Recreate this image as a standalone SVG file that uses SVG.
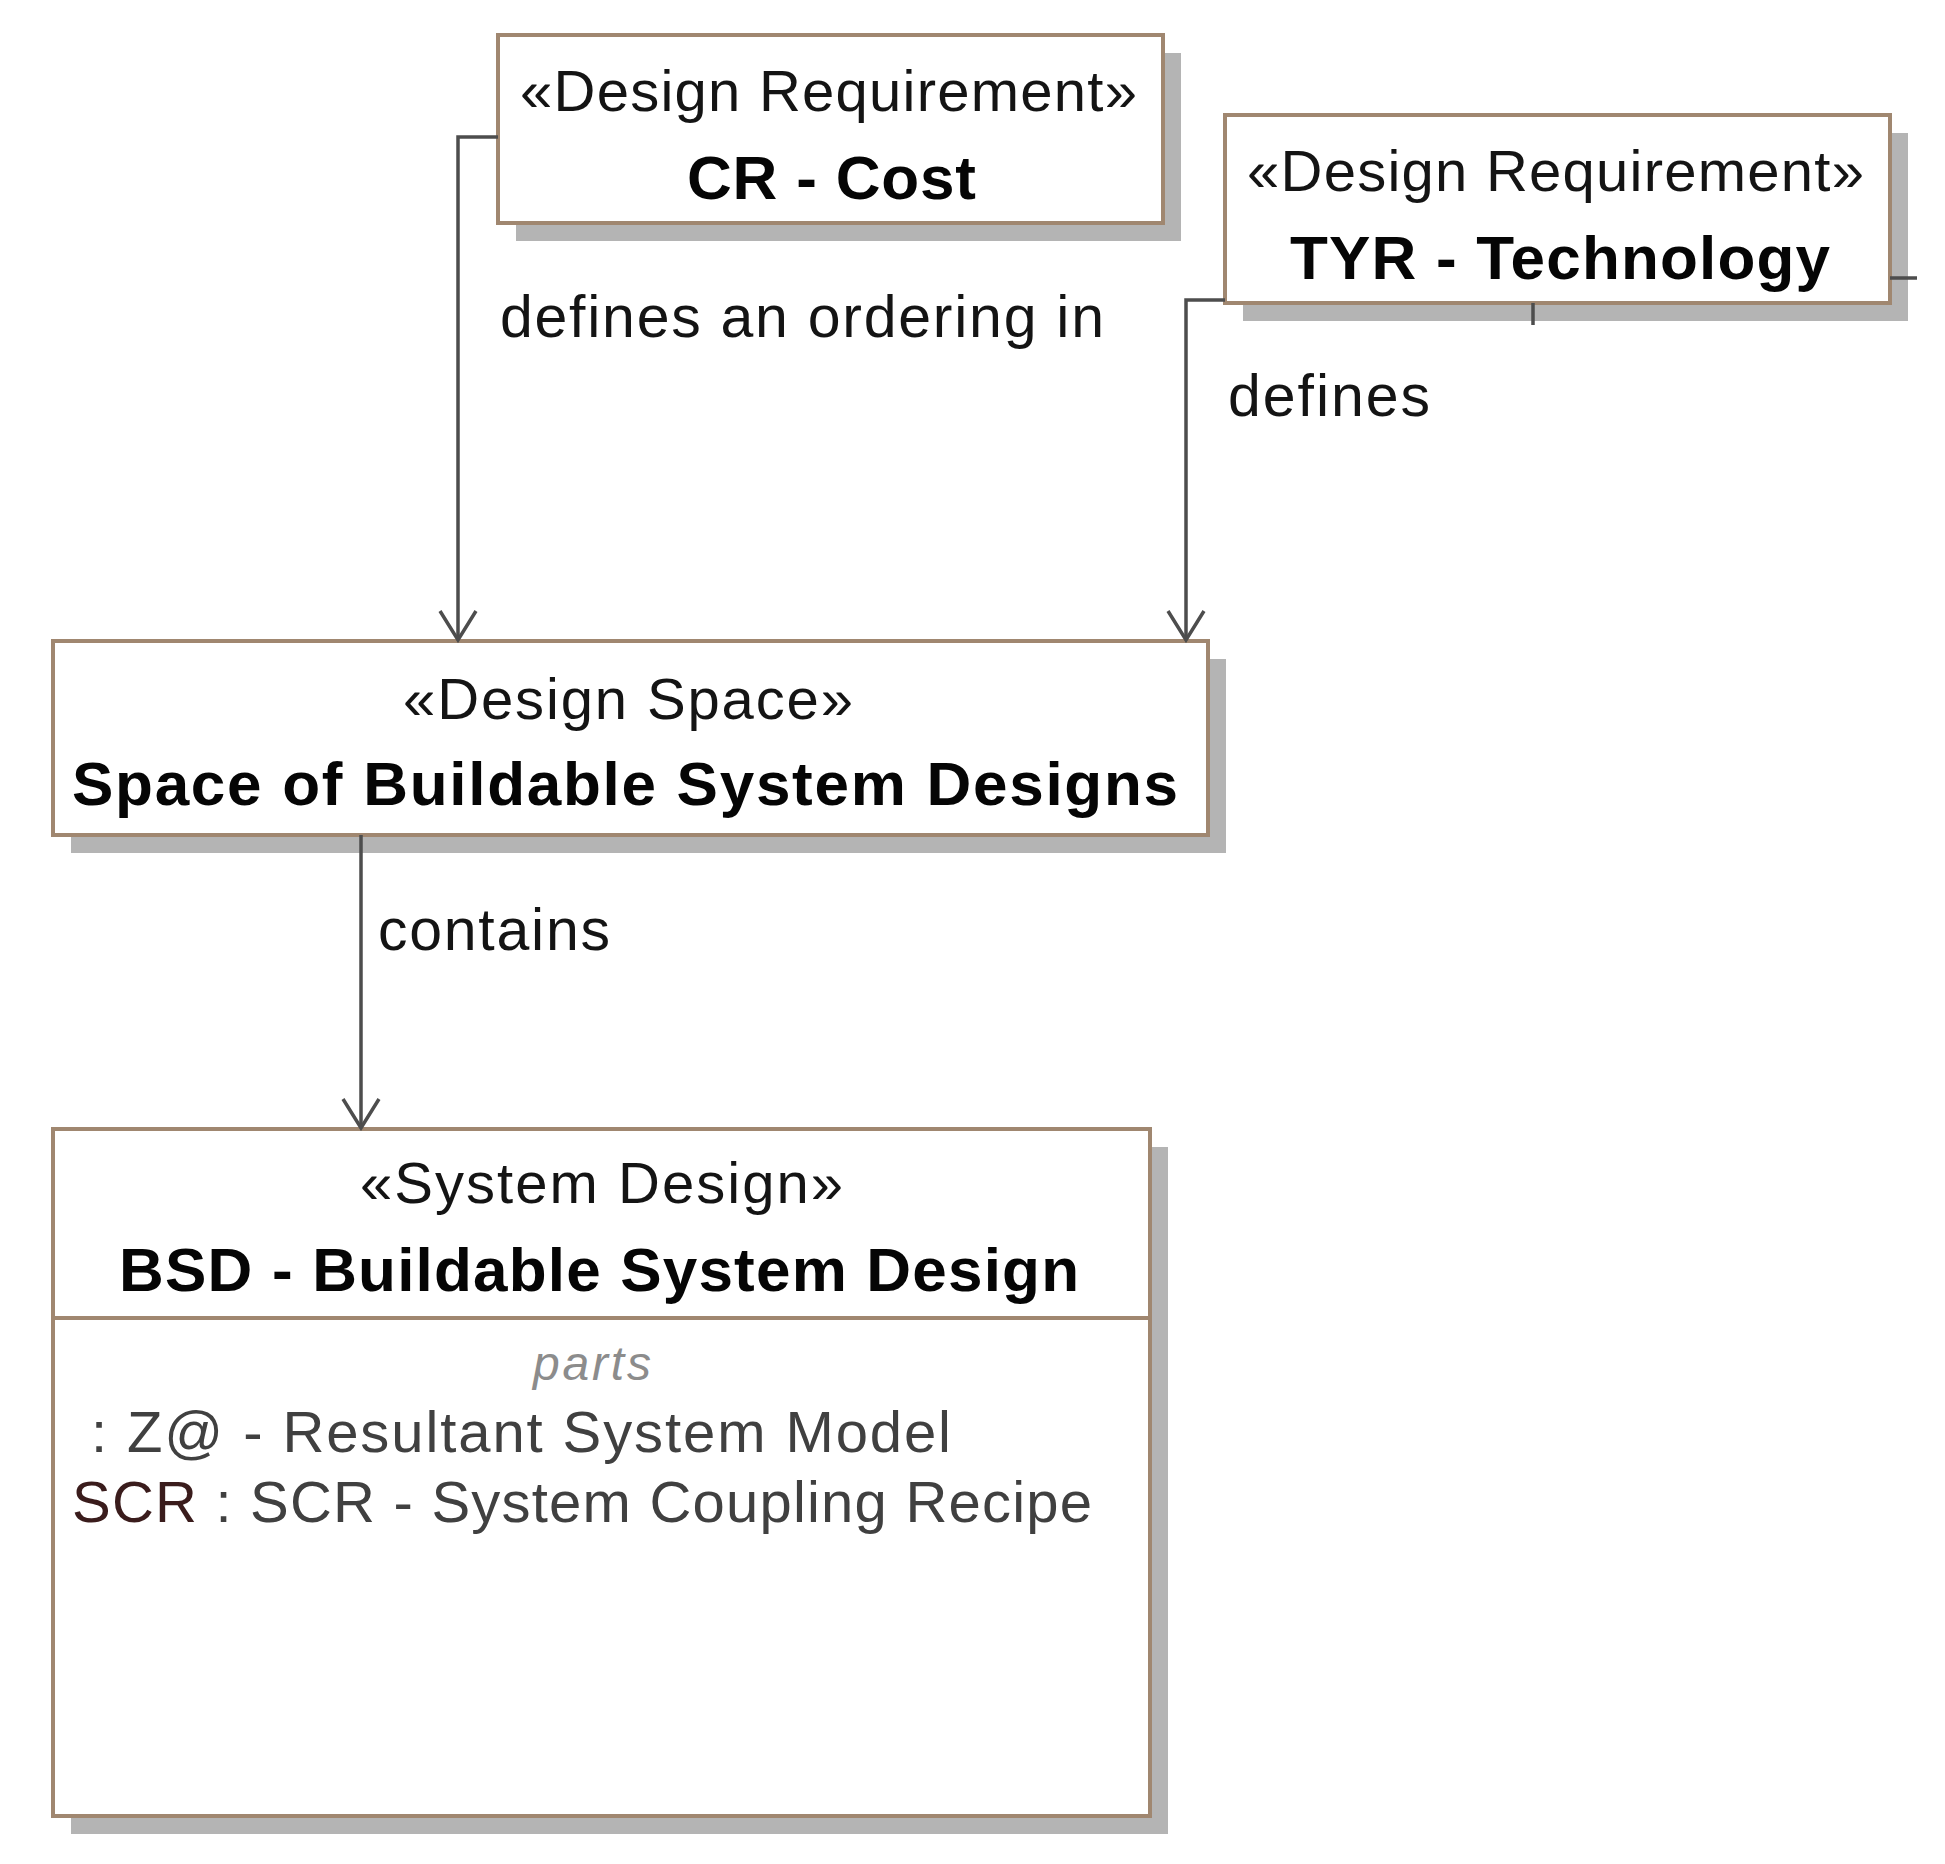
<svg xmlns="http://www.w3.org/2000/svg" width="1945" height="1864" viewBox="0 0 1945 1864">
<style>
.shadow{fill:#b4b4b4}
.box{fill:#ffffff;stroke:#a08770;stroke-width:4}
.st{font-family:"Liberation Sans",Arial,sans-serif;font-size:58px;fill:#141414}
.nm{font-family:"Liberation Sans",Arial,sans-serif;font-size:62px;font-weight:bold;fill:#050505}
.lbl{font-family:"Liberation Sans",Arial,sans-serif;font-size:59px;fill:#141414}
.parts{font-family:"Liberation Sans",Arial,sans-serif;font-size:48px;font-style:italic;fill:#8c8c8c}
.body{font-family:"Liberation Sans",Arial,sans-serif;font-size:58px;fill:#404040}
.conn{fill:none;stroke:#4d4d4d;stroke-width:3.5}
</style>
<rect width="1945" height="1864" fill="#ffffff"/>
<g id="node-cr">
<rect class="shadow" x="516" y="53" width="665" height="188"/>
<rect class="box" x="498" y="35" width="665" height="188"/>
<text class="st" x="520" y="111" textLength="617" lengthAdjust="spacing">«Design Requirement»</text>
<text class="nm" x="687" y="199" textLength="289" lengthAdjust="spacing">CR - Cost</text>
</g>
<g id="node-tyr">
<rect class="shadow" x="1243" y="133" width="665" height="188"/>
<rect class="box" x="1225" y="115" width="665" height="188"/>
<text class="st" x="1247" y="191" textLength="617" lengthAdjust="spacing">«Design Requirement»</text>
<text class="nm" x="1290" y="279" textLength="540" lengthAdjust="spacing">TYR - Technology</text>
</g>
<g id="node-space">
<rect class="shadow" x="71" y="659" width="1155" height="194"/>
<rect class="box" x="53" y="641" width="1155" height="194"/>
<text class="st" x="403" y="719" textLength="450" lengthAdjust="spacing">«Design Space»</text>
<text class="nm" x="72" y="805" textLength="1106" lengthAdjust="spacing">Space of Buildable System Designs</text>
</g>
<g id="node-bsd">
<rect class="shadow" x="71" y="1147" width="1097" height="687"/>
<rect class="box" x="53" y="1129" width="1097" height="687"/>
<line x1="53" y1="1318" x2="1150" y2="1318" stroke="#a08770" stroke-width="4"/>
<text class="st" x="360" y="1203" textLength="483" lengthAdjust="spacing">«System Design»</text>
<text class="nm" x="119" y="1291" textLength="960" lengthAdjust="spacing">BSD - Buildable System Design</text>
<text class="parts" x="533" y="1380" textLength="118" lengthAdjust="spacing">parts</text>
<text class="body" x="91" y="1452" textLength="860" lengthAdjust="spacing">: Z@ - Resultant System Model</text>
<text class="body" x="72" y="1522" textLength="1020" lengthAdjust="spacing"><tspan fill="#3a1c1c">SCR</tspan> : SCR - System Coupling Recipe</text>
</g>
<g id="connectors">
<path class="conn" d="M498 137 H458 V640"/>
<path class="conn" d="M440 611 L458 640 L476 611"/>
<path class="conn" d="M1225 300 H1186 V640"/>
<path class="conn" d="M1168 611 L1186 640 L1204 611"/>
<path class="conn" d="M361 835 V1128"/>
<path class="conn" d="M343 1099 L361 1128 L379 1099"/>
<path class="conn" d="M1533 303 V325"/>
<path class="conn" d="M1890 278 H1917"/>
<text class="lbl" x="500" y="337" textLength="604" lengthAdjust="spacing">defines an ordering in</text>
<text class="lbl" x="1228" y="416" textLength="202" lengthAdjust="spacing">defines</text>
<text class="lbl" x="378" y="950" textLength="232" lengthAdjust="spacing">contains</text>
</g>
</svg>
